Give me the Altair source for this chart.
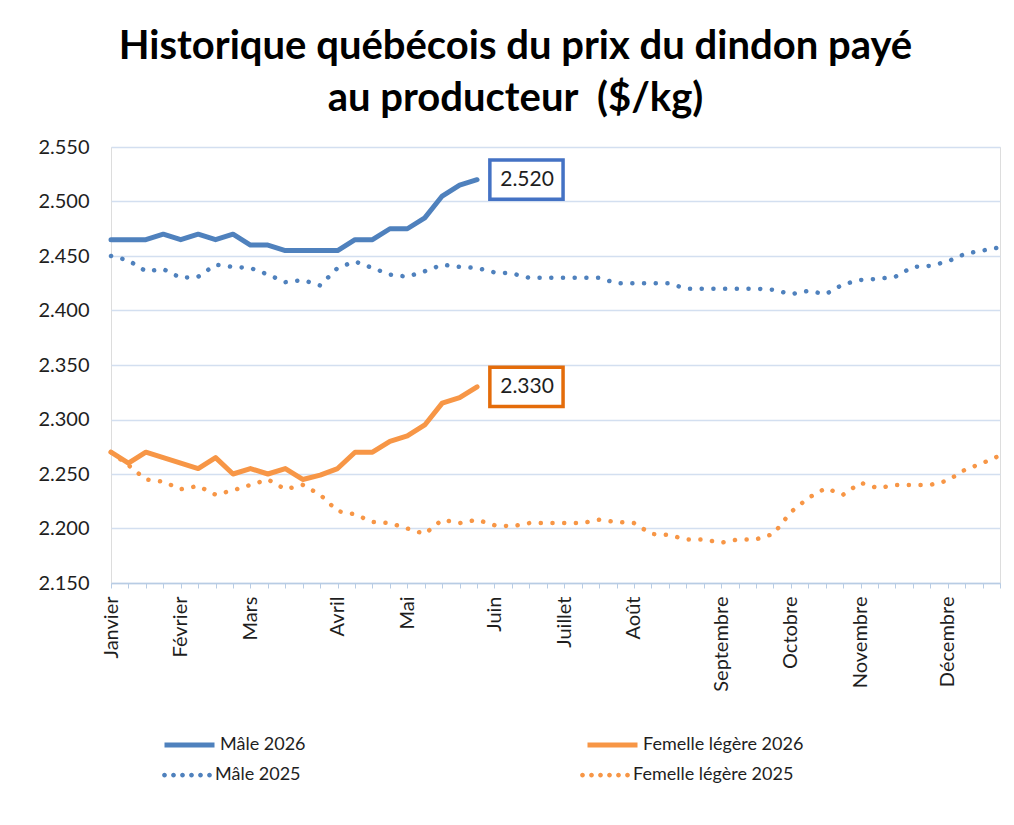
import altair as alt
import pandas as pd

# ---------------- data ----------------
weeks = list(range(52))
month_labels = ["Janvier", "Février", "Mars", "Avril", "Mai", "Juin", "Juillet",
                "Août", "Septembre", "Octobre", "Novembre", "Décembre"]
month_weeks = [0, 4, 8, 13, 17, 22, 26, 30, 35, 39, 43, 48]
y_ticks = [2.15, 2.20, 2.25, 2.30, 2.35, 2.40, 2.45, 2.50, 2.55]

series_2026 = ["Mâle 2026", "Femelle légère 2026"]
series_2025 = ["Mâle 2025", "Femelle légère 2025"]

male_2026 = [2.465, 2.465, 2.465, 2.470, 2.465, 2.470, 2.465, 2.470, 2.460, 2.460,
             2.455, 2.455, 2.455, 2.455, 2.465, 2.465, 2.475, 2.475, 2.485, 2.505,
             2.515, 2.520]
female_2026 = [2.270, 2.260, 2.270, 2.265, 2.260, 2.255, 2.265, 2.250, 2.255, 2.250,
               2.255, 2.245, 2.249, 2.255, 2.270, 2.270, 2.280, 2.285, 2.295, 2.315,
               2.320, 2.330]
male_2025 = [2.450, 2.446, 2.436, 2.438, 2.430, 2.431, 2.442, 2.440, 2.439, 2.433,
             2.426, 2.428, 2.423, 2.439, 2.445, 2.439, 2.433, 2.431, 2.436, 2.442,
             2.440, 2.439, 2.435, 2.434, 2.430, 2.430, 2.430, 2.430, 2.430, 2.425,
             2.425, 2.425, 2.425, 2.420, 2.420, 2.420, 2.420, 2.420, 2.419, 2.415,
             2.418, 2.415, 2.424, 2.428, 2.429, 2.431, 2.440, 2.441, 2.445, 2.452,
             2.455, 2.458]
female_2025 = [2.270, 2.258, 2.245, 2.243, 2.236, 2.239, 2.231, 2.235, 2.240, 2.245,
               2.236, 2.240, 2.231, 2.216, 2.213, 2.206, 2.205, 2.200, 2.195, 2.208,
               2.205, 2.208, 2.203, 2.202, 2.205, 2.205, 2.205, 2.205, 2.208, 2.206,
               2.205, 2.195, 2.194, 2.190, 2.190, 2.187, 2.190, 2.190, 2.195, 2.215,
               2.228, 2.237, 2.231, 2.242, 2.237, 2.240, 2.240, 2.240, 2.244, 2.254,
               2.260, 2.267]

title_lines = ["Historique québécois du prix du dindon payé", "au producteur \u00a0($/kg)"]

# ---------------- styles ----------------
BLUE = "#4F81BD"
ORANGE = "#F79646"
BOX_BLUE = "#4472C4"
BOX_ORANGE = "#E46C0A"
GRID = "#D3DFF0"
AXIS = "#B8CCE4"
TEXT = "#1E1E1E"
FONT = "Lato"


def frame(names, vals_list):
    rows = []
    for name, vals in zip(names, vals_list):
        for w, v in zip(weeks, vals):
            rows.append({"week": w, "value": v, "series": name})
    return pd.DataFrame(rows)


df26 = frame(series_2026, [male_2026, female_2026])
df25 = frame(series_2025, [male_2025, female_2025])
last26 = df26.groupby("series", as_index=False).last()
last26["label"] = last26["value"].map(lambda v: f"{v:.3f}")

label_map = ",".join(f"'{w}':'{m}'" for w, m in zip(month_weeks, month_labels))
label_expr = "{" + label_map + "}[datum.value] || ''"

x_enc = alt.X(
    "week:O",
    scale=alt.Scale(type="point", padding=0, domain=weeks),
    axis=alt.Axis(
        labelExpr=label_expr, labelAngle=270, labelOverlap=False,
        tickSize=5, tickColor=AXIS, domainColor=AXIS, domainWidth=1.5,
        grid=False, title=None, labelFontSize=20, labelFont=FONT,
        labelColor=TEXT, labelPadding=8,
    ),
)
y_enc = alt.Y(
    "value:Q",
    scale=alt.Scale(domain=[2.15, 2.55], nice=False, zero=False),
    axis=alt.Axis(
        values=y_ticks, format=".3f", domain=False, ticks=False, grid=True,
        gridColor=GRID, gridWidth=1.3, title=None, labelFontSize=20,
        labelFont=FONT, labelColor=TEXT, labelPadding=22,
    ),
)

# legend dot-path symbol (six small filled circles)
dot_xs = [-0.9, -0.54, -0.18, 0.18, 0.54, 0.9]
R = 0.095
dots_path = "".join(
    f"M{x - R:.3f},0a{R},{R} 0 1,0 {2 * R:.3f},0a{R},{R} 0 1,0 {-2 * R:.3f},0Z" for x in dot_xs
)

legend_common = dict(
    orient="none", columns=2, title=None, labelFontSize=18, labelFont=FONT,
    labelColor=TEXT, labelOffset=3, labelLimit=400, symbolSize=2500, clipHeight=20,
    columnPadding=279, padding=0, legendX=51,
)

lines26 = alt.Chart(df26).mark_line(strokeWidth=5, strokeCap="round", strokeJoin="round").encode(
    x=x_enc, y=y_enc,
    color=alt.Color(
        "series:N",
        scale=alt.Scale(domain=series_2026, range=[BLUE, ORANGE]),
        legend=alt.Legend(symbolType="stroke", symbolStrokeWidth=5, legendY=588, **legend_common),
    ),
    order="week:Q",
)


def dotted(name, color):
    return alt.Chart(df25).transform_filter(alt.datum.series == name).mark_line(
        strokeWidth=4.5, strokeCap="round", strokeDash=[0.1, 11.6], color=color
    ).encode(x=x_enc, y=y_enc, order="week:Q")


# invisible points only used to carry the dotted-line legend entries
legend25 = alt.Chart(df25).mark_point(filled=True, opacity=0, size=1).encode(
    x=x_enc, y=y_enc,
    fill=alt.Fill(
        "series:N",
        scale=alt.Scale(domain=series_2025, range=[BLUE, ORANGE]),
        legend=alt.Legend(symbolType=dots_path, symbolOpacity=1, symbolStrokeWidth=0,
                          legendY=618, **legend_common),
    ),
)

box_path = "M0.32,-0.49H2.15V0.49H0.32Z"


def label_layer(name, color):
    base = alt.Chart(last26).transform_filter(alt.datum.series == name)
    box = base.mark_point(shape=box_path, size=6400, filled=True, fill="white",
                          stroke=color, strokeWidth=3.5, opacity=1).encode(x=x_enc, y=y_enc)
    txt = base.mark_text(dx=50, align="center", baseline="middle", fontSize=21,
                         font=FONT, color=TEXT).encode(x=x_enc, y=y_enc, text="label:N")
    return box + txt


chart = alt.layer(
    dotted(series_2025[0], BLUE), dotted(series_2025[1], ORANGE), legend25, lines26,
    label_layer(series_2026[0], BOX_BLUE),
    label_layer(series_2026[1], BOX_ORANGE),
).properties(
    width=889, height=436,
    autosize=alt.AutoSizeParams(type="none"),
    padding={"left": 103, "top": 139, "right": 6, "bottom": 234},
    title=alt.TitleParams(
        text=title_lines, fontSize=40, font=FONT, fontWeight="bold", lineHeight=52,
        anchor="middle", frame="group", dx=-40, offset=18, color="#000000",
    ),
).configure_view(stroke=None).configure(background="white")

chart.save("out.html", embed_options={"renderer": "svg", "actions": False})
